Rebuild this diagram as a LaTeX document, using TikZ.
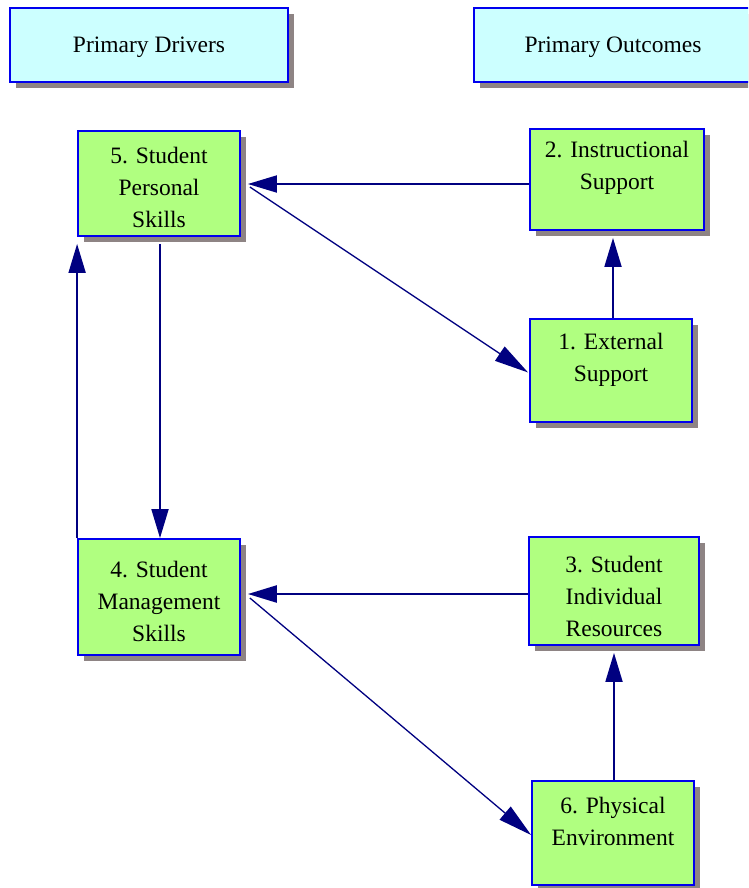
\documentclass[tikz,border=0pt]{standalone}
\usepackage{fontspec}
\setmainfont{Liberation Serif}
\newfontfamily\labelface{Liberation Serif}
\usetikzlibrary{arrows.meta,shadows,calc}
\definecolor{headfill}{HTML}{CCFFFF}
\definecolor{boxfill}{HTML}{B0FF80}
\definecolor{boxline}{HTML}{0000EE}
\definecolor{shadowgray}{HTML}{8E8484}
\definecolor{arrowblue}{HTML}{000080}
\tikzset{
  basebox/.style={rectangle, draw=boxline, line width=1.8pt, inner sep=0pt,
    drop shadow={shadow xshift=6pt, shadow yshift=-6pt, fill=shadowgray, opacity=1}},
  headbox/.style={basebox, fill=headfill, minimum width=278pt, minimum height=74pt},
  itembox/.style={basebox, fill=boxfill},
  boxtext/.style={align=center, font=\labelface\fontsize{23.5}{32}\selectfont, inner sep=0pt},
  link/.style={draw=arrowblue, line width=1.8pt,
    -{Triangle[length=29pt,width=17pt]}},
  thinlink/.style={draw=arrowblue, line width=1.3pt,
    -{Triangle[length=34pt,width=17pt]}}
}
\begin{document}
\begin{tikzpicture}[x=1pt,y=-1pt]
\useasboundingbox (0,0) rectangle (748,888);
\begin{scope}
\clip (0,0) rectangle (748,888);
% header boxes
\node[headbox] (pd) at (149,45) {};
\node[boxtext] (pdt) at (149,47) {Primary Drivers};
\node[headbox] (po) at (613,45) {};
\node[boxtext] (pot) at (613,47) {Primary Outcomes};
% driver and outcome boxes
\node[itembox, minimum width=162pt, minimum height=105pt] (b5) at (159,183.5) {};
\node[boxtext] (t5) at (159,187) {5. Student\\Personal\\Skills};
\node[itembox, minimum width=174pt, minimum height=101pt] (b2) at (617,179.5) {};
\node[boxtext] (t2) at (617,168) {2. Instructional\\Support};
\node[itembox, minimum width=162pt, minimum height=103pt] (b1) at (611,370.5) {};
\node[boxtext] (t1) at (611,360) {1. External\\Support};
\node[itembox, minimum width=162pt, minimum height=116pt] (b4) at (159,597) {};
\node[boxtext] (t4) at (159,601) {4. Student\\Management\\Skills};
\node[itembox, minimum width=170pt, minimum height=108pt] (b3) at (614,591) {};
\node[boxtext] (t3) at (614,596) {3. Student\\Individual\\Resources};
\node[itembox, minimum width=162pt, minimum height=104pt] (b6) at (613,833) {};
\node[boxtext] (t6) at (613,821) {6. Physical\\Environment};
% connectors
\draw[link] ($(b2.west)+(0,4.5)$) -- ($(b5.east)+(7,0.5)$);
\draw[thinlink] ($(b5.east)+(9,3.5)$) -- ($(b1.west)+(-1,2)$);
\draw[link] ($(b1.north)+(2,0)$) -- ($(b2.south)+(-4,7)$);
\draw[link] ($(b5.south)+(1,7)$) -- ($(b4.north)+(1,0)$);
\draw[link] (b4.north west) -- ($(b5.south west)+(0,7)$);
\draw[link, line width=2.4pt] ($(b3.west)+(0,3)$) -- ($(b4.east)+(7,-3)$);
\draw[thinlink] ($(b4.east)+(9,1)$) -- ($(b6.west)+(0,2)$);
\draw[link] ($(b6.north)+(1,0)$) -- ($(b3.south)+(0,7)$);
\end{scope}
\end{tikzpicture}
\end{document}
